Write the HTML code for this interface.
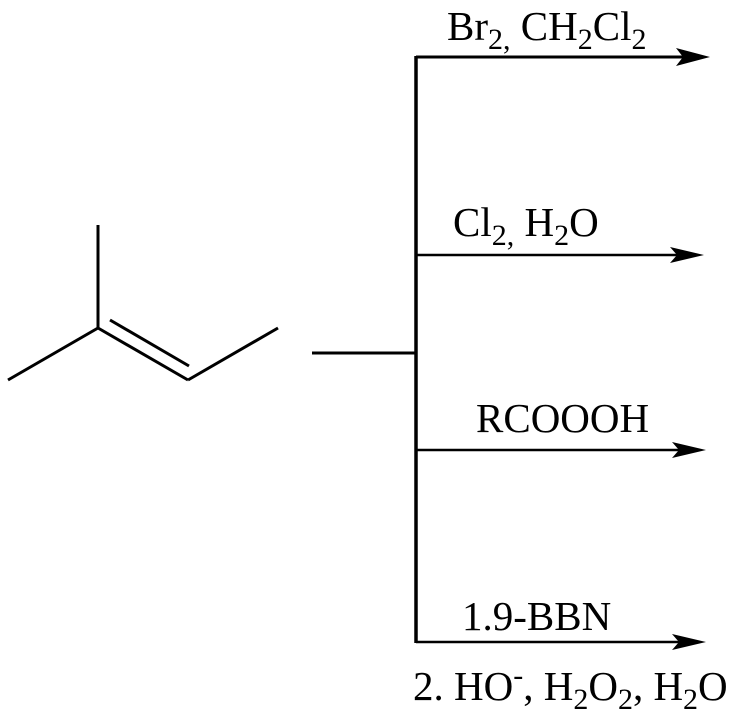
<!DOCTYPE html>
<html><head><style>
body{margin:0;background:#fff;}
svg{display:block;}
text{font-family:"Liberation Serif",serif;font-size:41px;fill:#000;}
</style></head><body>
<svg width="740" height="720" viewBox="0 0 740 720">
<g stroke="#000" stroke-width="3" fill="none" stroke-linecap="butt">
<line x1="8" y1="380" x2="98" y2="328"/>
<line x1="98" y1="328" x2="98" y2="225"/>
<line x1="98" y1="328" x2="188" y2="380"/>
<line x1="110" y1="320" x2="189" y2="366"/>
<line x1="188" y1="380" x2="278" y2="328"/>
<line x1="312" y1="353" x2="417" y2="353"/>
<line x1="416" y1="56" x2="416" y2="643" stroke-width="3.5"/>
<line x1="416" y1="57" x2="685" y2="57"/>
<line x1="416" y1="255" x2="680" y2="255" stroke-width="2.5"/>
<line x1="416" y1="450" x2="680" y2="450" stroke-width="2.5"/>
<line x1="416" y1="642" x2="680" y2="642" stroke-width="2.5"/>
</g>
<g fill="#000">
<polygon points="710,57 676,48 683,57 676,66"/>
<polygon points="704,255 670,247 677,255 670,263"/>
<polygon points="706,450 672,442 679,450 672,458"/>
<polygon points="706,642 672,634 679,642 672,650"/>
</g>
<text x="447" y="40">Br<tspan font-size="30" dy="9">2,</tspan><tspan dy="-9"> CH</tspan><tspan font-size="30" dy="9">2</tspan><tspan dy="-9">Cl</tspan><tspan font-size="30" dy="9">2</tspan></text>
<text x="453" y="236">Cl<tspan font-size="30" dy="9">2,</tspan><tspan dy="-9"> H</tspan><tspan font-size="30" dy="9">2</tspan><tspan dy="-9">O</tspan></text>
<text x="476" y="432">RCOOOH</text>
<text x="462" y="630">1.9-BBN</text>
<text x="413" y="700">2. HO<tspan font-size="30" dy="-15">-</tspan><tspan dy="15">, H</tspan><tspan font-size="30" dy="9">2</tspan><tspan dy="-9">O</tspan><tspan font-size="30" dy="9">2</tspan><tspan dy="-9">, H</tspan><tspan font-size="30" dy="9">2</tspan><tspan dy="-9">O</tspan></text>
</svg>
</body></html>
